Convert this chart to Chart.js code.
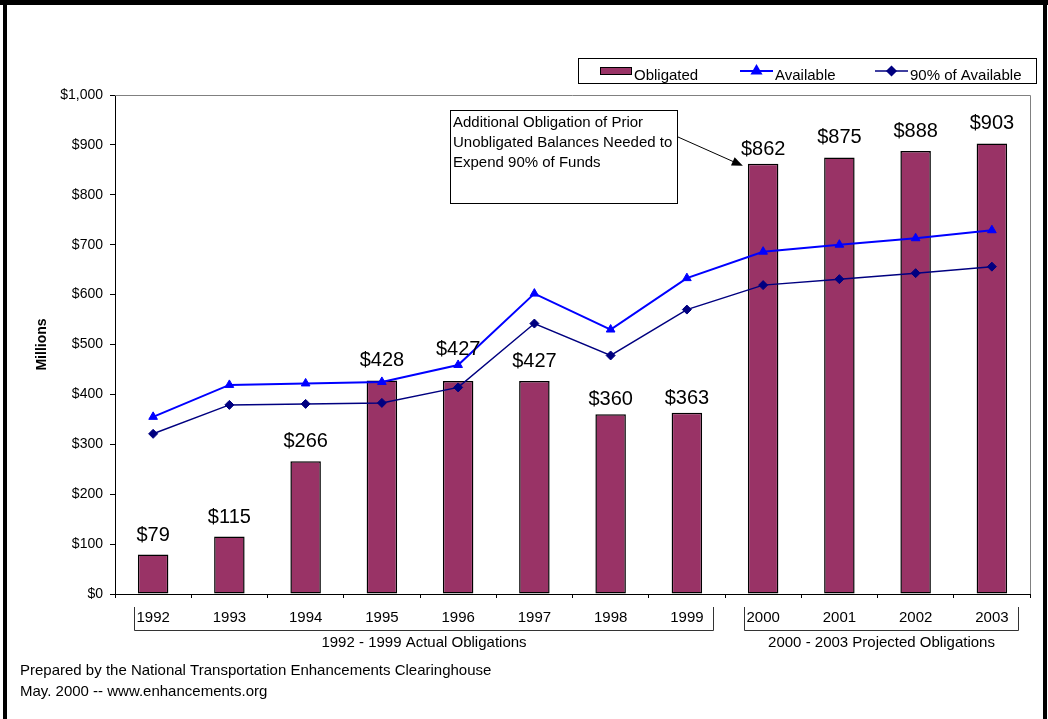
<!DOCTYPE html>
<html>
<head>
<meta charset="utf-8">
<title>Transportation Enhancements Obligations</title>
<script src="https://cdn.jsdelivr.net/npm/chart.js@4.4.1/dist/chart.umd.min.js"></script>
<style>
  html, body { margin: 0; padding: 0; background: #fff; }
</style>
</head>
<body>
<canvas id="obligations-chart" width="1048" height="719"></canvas>
<script>
const years = ["1992", "1993", "1994", "1995", "1996", "1997", "1998", "1999", "2000", "2001", "2002", "2003"];
const obligated = [79, 115, 266, 428, 427, 427, 360, 363, 862, 875, 888, 903];
const available = [355, 419, 422, 425, 459, 602, 530, 633, 686, 700, 713, 729];
const ninetyOfAvailable = [321, 379, 381, 383, 414, 542, 478, 570, 619, 631, 643, 656];

const yearGroups = [
  { label: "1992 - 1999 Actual Obligations", from: 0, to: 7 },
  { label: "2000 - 2003 Projected Obligations", from: 8, to: 11 },
];
const noteLines = [
  "Additional Obligation of Prior",
  "Unobligated Balances Needed to",
  "Expend 90% of Funds",
];
const footerLines = [
  "Prepared by the National Transportation Enhancements Clearinghouse",
  "May. 2000 -- www.enhancements.org",
];

const FONT = "'Liberation Sans', Arial, sans-serif";
const PLUM = "#993366";
const BLUE = "#0000ff";
const NAVY = "#000080";

// a few value labels sit higher/lower so they clear the lines
const labelLift = { "1996": 12, "1998": -5, "1999": -5, "2000": -5 };

Chart.defaults.font.family = FONT;
Chart.defaults.color = "#000";

const money = (v) => "$" + Number(v).toLocaleString("en-US");

const decorations = {
  id: "decorations",
  beforeDraw(chart) {
    const { ctx, width, height } = chart;
    ctx.save();
    ctx.fillStyle = "#fff";
    ctx.fillRect(0, 0, width, height);
    ctx.restore();
  },
  beforeDatasetsDraw(chart) {
    const { ctx, chartArea: a } = chart;
    // grey frame on the top and right of the plot area
    ctx.save();
    ctx.strokeStyle = "#808080";
    ctx.lineWidth = 1;
    ctx.beginPath();
    ctx.moveTo(a.left, Math.round(a.top) + 0.5);
    ctx.lineTo(Math.round(a.right) + 0.5, Math.round(a.top) + 0.5);
    ctx.lineTo(Math.round(a.right) + 0.5, a.bottom);
    ctx.stroke();
    ctx.restore();
  },
  afterDatasetsDraw(chart) {
    const { ctx } = chart;
    const meta = chart.getDatasetMeta(2);
    ctx.save();
    ctx.font = "20px " + FONT;
    ctx.fillStyle = "#000";
    ctx.textAlign = "center";
    ctx.textBaseline = "alphabetic";
    meta.data.forEach((bar, i) => {
      const lift = labelLift[years[i]] || 0;
      ctx.fillText(money(obligated[i]), bar.x, bar.y - 14 - lift);
    });
    ctx.restore();
  },
  afterDraw(chart) {
    const { ctx, chartArea: a } = chart;
    const x = chart.scales.x;
    ctx.save();

    // year group brackets under the axis labels
    ctx.strokeStyle = "#333";
    ctx.lineWidth = 1;
    ctx.font = "15px " + FONT;
    ctx.fillStyle = "#000";
    ctx.textAlign = "center";
    yearGroups.forEach((g) => {
      const l = Math.round(x.getPixelForValue(g.from) - 19) + 0.5;
      const r = Math.round(x.getPixelForValue(g.to) + 26) + 0.5;
      const t = a.bottom + 13;
      const b = Math.round(a.bottom + 36) + 0.5;
      ctx.beginPath();
      ctx.moveTo(l, t);
      ctx.lineTo(l, b);
      ctx.lineTo(r, b);
      ctx.lineTo(r, t);
      ctx.stroke();
      ctx.fillText(g.label, (l + r) / 2, a.bottom + 53);
    });

    // legend
    ctx.strokeStyle = "#000";
    ctx.strokeRect(578.5, 58.5, 458, 25);
    ctx.textAlign = "left";
    ctx.textBaseline = "alphabetic";
    ctx.fillStyle = PLUM;
    ctx.fillRect(600.5, 67.5, 31, 7);
    ctx.strokeRect(600.5, 67.5, 31, 7);
    ctx.fillStyle = "#000";
    ctx.fillText("Obligated", 634, 80);

    const legendLine = (x0, x1, y, color, width, style, radius) => {
      ctx.strokeStyle = color;
      ctx.lineWidth = width;
      ctx.beginPath();
      ctx.moveTo(x0, y);
      ctx.lineTo(x1, y);
      ctx.stroke();
      ctx.fillStyle = color;
      Chart.helpers.drawPoint(ctx, {
        pointStyle: style, radius: radius, borderWidth: 1, rotation: 0,
      }, (x0 + x1) / 2, y);
      ctx.fill();
    };
    ctx.save();
    legendLine(740, 773, 71, BLUE, 2, "triangle", 5);
    ctx.restore();
    ctx.fillStyle = "#000";
    ctx.fillText("Available", 775, 80);
    ctx.save();
    legendLine(875, 908, 71, NAVY, 1.5, "rectRot", 4.5);
    ctx.restore();
    ctx.fillStyle = "#000";
    ctx.fillText("90% of Available", 910, 80);

    // note box with arrow pointing at the 2000 bar
    ctx.strokeStyle = "#000";
    ctx.lineWidth = 1;
    ctx.strokeRect(450.5, 110.5, 227, 93);
    noteLines.forEach((line, i) => ctx.fillText(line, 453, 127 + i * 20));
    const bar2000 = chart.getDatasetMeta(2).data[8];
    const tipX = bar2000.x - bar2000.width / 2 - 5;
    const tipY = bar2000.y + 2;
    const fromX = 678, fromY = 137;
    const ang = Math.atan2(tipY - fromY, tipX - fromX);
    ctx.beginPath();
    ctx.moveTo(fromX, fromY);
    ctx.lineTo(tipX - 9 * Math.cos(ang), tipY - 9 * Math.sin(ang));
    ctx.stroke();
    ctx.beginPath();
    ctx.moveTo(tipX, tipY);
    ctx.lineTo(tipX - 11 * Math.cos(ang) + 4.5 * Math.sin(ang), tipY - 11 * Math.sin(ang) - 4.5 * Math.cos(ang));
    ctx.lineTo(tipX - 11 * Math.cos(ang) - 4.5 * Math.sin(ang), tipY - 11 * Math.sin(ang) + 4.5 * Math.cos(ang));
    ctx.closePath();
    ctx.fill();

    // source lines
    footerLines.forEach((line, i) => ctx.fillText(line, 20, 675 + i * 21));

    // outer black frame
    ctx.fillRect(0, 0, chart.width, 5);
    ctx.fillRect(3, 0, 4, chart.height);
    ctx.fillRect(1043, 0, 4, chart.height);
    ctx.restore();
  },
};

new Chart(document.getElementById("obligations-chart"), {
  type: "bar",
  data: {
    labels: years,
    datasets: [
      {
        type: "line",
        label: "Available",
        data: available,
        borderColor: BLUE,
        backgroundColor: BLUE,
        borderWidth: 2,
        pointStyle: "triangle",
        pointRadius: 5,
        pointBorderWidth: 1,
        order: 1,
      },
      {
        type: "line",
        label: "90% of Available",
        data: ninetyOfAvailable,
        borderColor: NAVY,
        backgroundColor: NAVY,
        borderWidth: 1.5,
        pointStyle: "rectRot",
        pointRadius: 4.5,
        pointBorderWidth: 1,
        order: 2,
      },
      {
        label: "Obligated",
        data: obligated,
        backgroundColor: PLUM,
        borderColor: "#000",
        borderWidth: 1.5,
        borderSkipped: false,
        barPercentage: 0.4,
        categoryPercentage: 1,
        order: 3,
      },
    ],
  },
  options: {
    responsive: false,
    animation: false,
    layout: { padding: { left: 0, top: 95, right: 18, bottom: 85 } },
    plugins: {
      legend: { display: false },
      tooltip: { enabled: false },
    },
    scales: {
      x: {
        grid: { offset: true, drawOnChartArea: false, tickLength: 4, color: "#000" },
        border: { color: "#000" },
        ticks: { color: "#000", font: { size: 15 }, padding: 11, maxRotation: 0 },
        afterFit: (s) => { s.height = 40; },
      },
      y: {
        min: 0,
        max: 1000,
        ticks: { stepSize: 100, callback: (v) => money(v), color: "#000", font: { size: 14 }, padding: 7 },
        grid: { drawOnChartArea: false, tickLength: 5, color: "#000" },
        border: { color: "#000" },
        title: {
          display: true,
          text: "Millions",
          color: "#000",
          font: { size: 14, weight: "bold" },
          padding: { top: 34 },
        },
        afterFit: (s) => { s.width = 115; },
      },
    },
  },
  plugins: [decorations],
});
</script>
</body>
</html>
